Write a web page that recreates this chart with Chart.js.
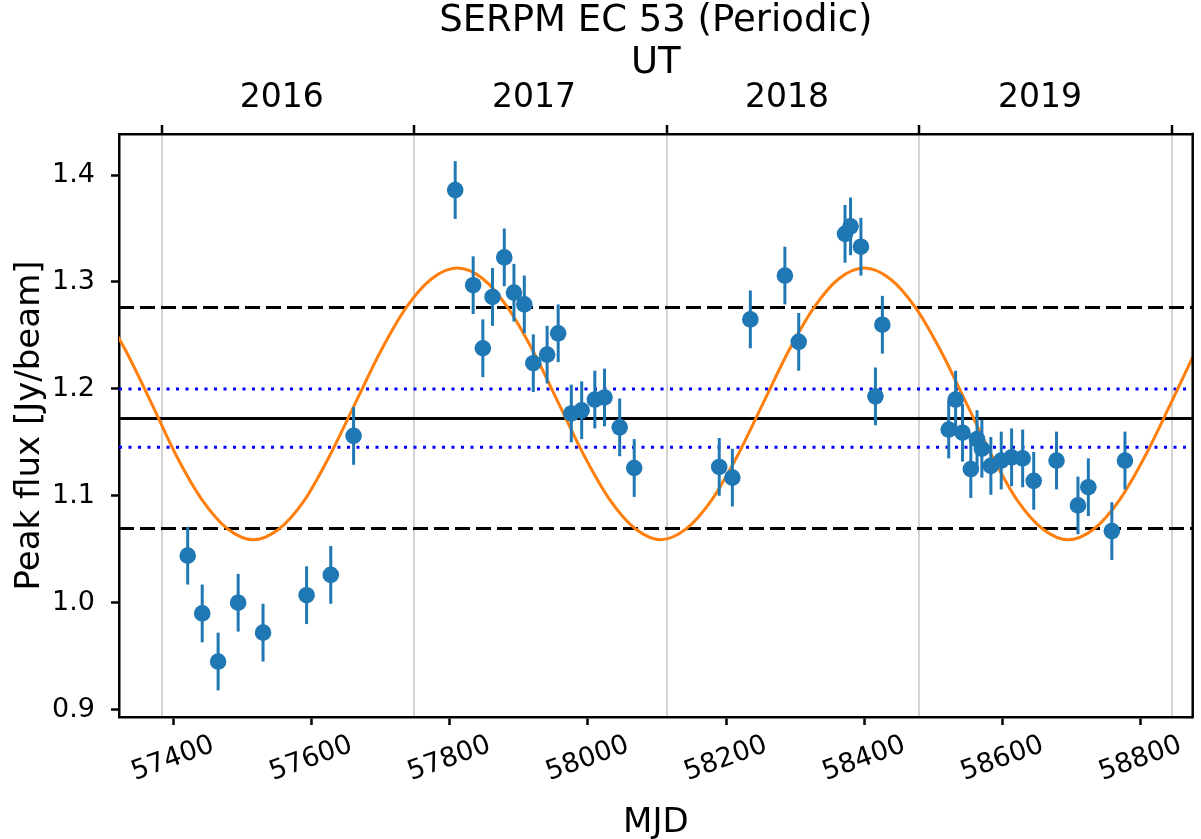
<!DOCTYPE html>
<html>
<head>
<meta charset="utf-8">
<script src="https://cdn.jsdelivr.net/npm/chart.js@4.4.1/dist/chart.umd.min.js"></script>
<style>
  html, body { margin: 0; padding: 0; background: #fff; overflow: hidden; }
  canvas { display: block; }
</style>
</head>
<body>
<canvas id="chart" width="1201" height="839"></canvas>
<script>
// observations
const mjd = [57421, 57442, 57465, 57494, 57530, 57593, 57628, 57661,
  57808, 57834, 57848, 57862, 57879, 57893, 57908, 57921, 57941, 57957, 57976, 57991, 58010, 58024, 58046, 58067,
  58190, 58209, 58235, 58285, 58305, 58372, 58380, 58395, 58416, 58426,
  58522, 58532, 58542, 58554, 58563, 58570, 58583, 58598, 58613, 58629, 58645, 58678, 58709, 58724, 58758, 58777];
const flux = [1.044, 0.990, 0.945, 1.000, 0.972, 1.007, 1.026, 1.156,
  1.386, 1.297, 1.238, 1.286, 1.323, 1.290, 1.279, 1.224, 1.232, 1.252, 1.177, 1.180, 1.190, 1.192, 1.164, 1.126,
  1.127, 1.117, 1.265, 1.306, 1.244, 1.345, 1.352, 1.333, 1.193, 1.260,
  1.162, 1.190, 1.159, 1.125, 1.153, 1.144, 1.128, 1.133, 1.136, 1.135, 1.114, 1.133, 1.091, 1.108, 1.067, 1.133];
const fluxErr = [0.027, 0.027, 0.027, 0.027, 0.027, 0.027, 0.027, 0.027,
  0.027, 0.027, 0.027, 0.027, 0.027, 0.027, 0.027, 0.027, 0.027, 0.027, 0.027, 0.027, 0.027, 0.027, 0.027, 0.027,
  0.027, 0.027, 0.027, 0.027, 0.027, 0.027, 0.027, 0.027, 0.027, 0.027,
  0.027, 0.027, 0.027, 0.027, 0.027, 0.027, 0.027, 0.027, 0.027, 0.027, 0.027, 0.027, 0.027, 0.027, 0.027, 0.027];

// periodic model curve
const modelMjd = [57295, 57332, 57369, 57405, 57442, 57479, 57516, 57553, 57590, 57626, 57663, 57700,
  57737, 57774, 57811, 57848, 57884, 57921, 57958, 57995, 58032, 58069, 58106, 58142,
  58179, 58216, 58253, 58290, 58327, 58363, 58400, 58437, 58474, 58511, 58548, 58585,
  58621, 58658, 58695, 58732, 58769, 58806, 58843, 58879];
const modelFlux = [1.276, 1.235, 1.186, 1.137, 1.096, 1.069, 1.059, 1.069, 1.096, 1.137, 1.186, 1.235,
  1.276, 1.303, 1.313, 1.303, 1.276, 1.235, 1.186, 1.137, 1.096, 1.069, 1.059, 1.069,
  1.096, 1.137, 1.186, 1.235, 1.276, 1.303, 1.313, 1.303, 1.276, 1.235, 1.186, 1.137,
  1.096, 1.069, 1.059, 1.069, 1.096, 1.137, 1.186, 1.235];

// reference levels
const solidLevels = [1.1724];
const dashedLevels = [1.2762, 1.0695];
const dottedLevels = [1.2000, 1.1453];

// axes
const xTicks = [57400, 57600, 57800, 58000, 58200, 58400, 58600, 58800];
const yTicks = [0.9, 1.0, 1.1, 1.2, 1.3, 1.4];
const yearEdges = [57384, 57749, 58114, 58479, 58845];
const yearMids = [57557, 57922, 58288, 58654];
const yearLabels = ['2016', '2017', '2018', '2019'];
const xMin = 57321.6, xMax = 58875;
const yMin = 0.8931, yMax = 1.4384;

const FONT = "'DejaVu Sans', sans-serif";
Chart.defaults.font.family = FONT;
Chart.defaults.color = '#000';

const errorBars = {
  id: 'errorBars',
  beforeDatasetDraw(chart, args) {
    const ds = chart.data.datasets[args.index];
    if (!ds.errors) return;
    const xs = chart.scales.x, ys = chart.scales.y, c = chart.ctx;
    c.save();
    c.strokeStyle = '#1f77b4';
    c.lineWidth = 3;
    ds.data.forEach((p, i) => {
      const px = xs.getPixelForValue(p.x);
      c.beginPath();
      c.moveTo(px, ys.getPixelForValue(p.y - ds.errors[i]));
      c.lineTo(px, ys.getPixelForValue(p.y + ds.errors[i]));
      c.stroke();
    });
    c.restore();
  }
};

// right side of the axes frame
const rightFrame = {
  id: 'rightFrame',
  afterDraw(chart) {
    const a = chart.chartArea, c = chart.ctx;
    c.save();
    c.strokeStyle = '#000';
    c.lineWidth = 2.5;
    c.beginPath();
    c.moveTo(a.right, a.top - 1.25);
    c.lineTo(a.right, a.bottom + 1.25);
    c.stroke();
    c.restore();
  }
};

function levelSet(levels, color, dash, order) {
  return levels.map(v => ({
    data: [{ x: xMin, y: v }, { x: xMax, y: v }],
    showLine: true, borderColor: color, borderWidth: 3, borderDash: dash,
    borderCapStyle: 'butt', pointRadius: 0, order: order
  }));
}

// keep the plot frame where the reference has it
function fixSize(key, size) {
  return s => {
    s[key] = size;
    s.paddingLeft = 0; s.paddingRight = 0; s.paddingTop = 0; s.paddingBottom = 0;
  };
}

const ctx = document.getElementById('chart').getContext('2d');
new Chart(ctx, {
  type: 'scatter',
  data: {
    datasets: [
      {
        data: mjd.map((m, i) => ({ x: m, y: flux[i] })),
        errors: fluxErr,
        backgroundColor: '#1f77b4', borderWidth: 0, pointRadius: 8.3, order: 0
      },
      {
        data: modelMjd.map((m, i) => ({ x: m, y: modelFlux[i] })),
        showLine: true, borderColor: '#ff7f0e', borderWidth: 3, pointRadius: 0,
        cubicInterpolationMode: 'monotone', order: 1
      },
      ...levelSet(solidLevels, '#000', [], 2),
      ...levelSet(dashedLevels, '#000', [15, 6], 2),
      ...levelSet(dottedLevels, '#0000ff', [3, 6.5], 2)
    ]
  },
  options: {
    responsive: false,
    animation: false,
    layout: { padding: { left: 0, top: 0, bottom: 0, right: 6 } },
    plugins: {
      legend: { display: false },
      tooltip: { enabled: false }
    },
    scales: {
      x: {
        type: 'linear', position: 'bottom', min: xMin, max: xMax,
        afterBuildTicks: s => { s.ticks = xTicks.map(v => ({ value: v })); },
        afterFit: fixSize('height', 122),
        ticks: {
          autoSkip: false, minRotation: 20, maxRotation: 20, labelOffset: 40, padding: 4,
          font: { size: 27 }, callback: v => String(v)
        },
        grid: { drawOnChartArea: false, color: '#000', tickColor: '#000', tickLength: 8, tickWidth: 2.5 },
        border: { color: '#000', width: 2.5 },
        title: { display: true, text: 'MJD', font: { size: 34, lineHeight: 0.96 }, padding: { top: 0, bottom: 0 } }
      },
      x2: {
        type: 'linear', position: 'top', min: xMin, max: xMax,
        afterBuildTicks: s => {
          s.ticks = yearEdges.concat(yearMids).sort((a, b) => a - b).map(v => ({ value: v }));
        },
        afterFit: fixSize('height', 134),
        ticks: {
          autoSkip: false, maxRotation: 0, padding: 7, font: { size: 33 },
          callback: v => { const i = yearMids.indexOf(v); return i >= 0 ? yearLabels[i] : ''; }
        },
        grid: {
          color: c => (c.tick && yearEdges.includes(c.tick.value)) ? '#d3d3d3' : 'rgba(0,0,0,0)',
          tickColor: c => (c.tick && yearEdges.includes(c.tick.value)) ? '#000' : 'rgba(0,0,0,0)',
          lineWidth: 2, tickWidth: 2.5, tickLength: 9
        },
        border: { color: '#000', width: 2.5 },
        title: {
          display: true, text: ['SERPM EC 53 (Periodic)', 'UT'],
          font: { size: 37, lineHeight: 1.135 }, padding: { top: 0, bottom: 0 }
        }
      },
      y: {
        type: 'linear', position: 'left', min: yMin, max: yMax,
        afterBuildTicks: s => { s.ticks = yTicks.map(v => ({ value: v })); },
        afterFit: fixSize('width', 119),
        ticks: { font: { size: 27 }, padding: 16, callback: v => v.toFixed(1) },
        grid: { drawOnChartArea: false, color: '#000', tickColor: '#000', tickLength: 8, tickWidth: 2.5 },
        border: { color: '#000', width: 2.5 },
        title: { display: true, text: 'Peak flux [Jy/beam]', font: { size: 34 }, padding: { top: 10, bottom: 0 } }
      }
    }
  },
  plugins: [errorBars, rightFrame]
});
</script>
</body>
</html>
